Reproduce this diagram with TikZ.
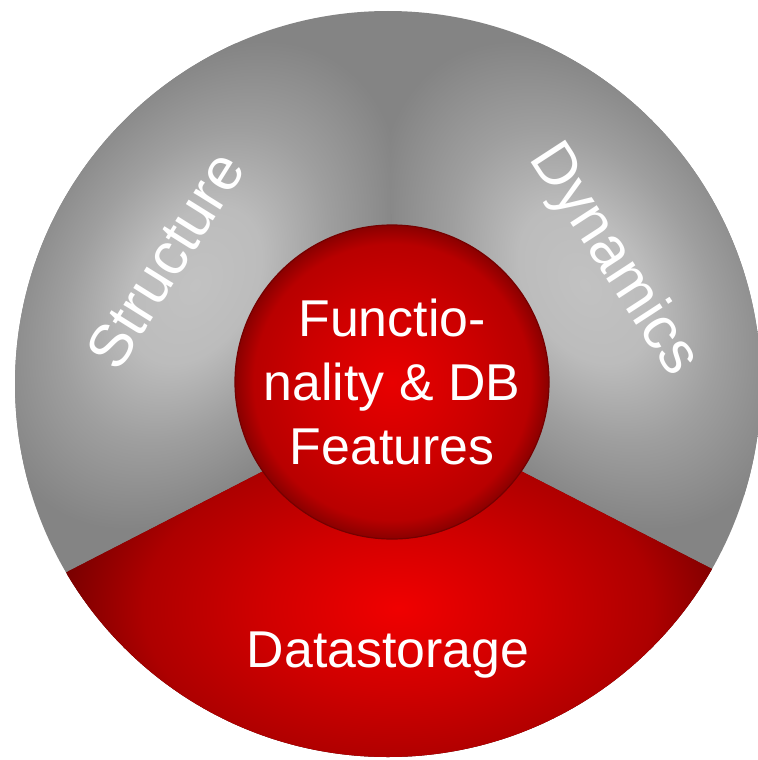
\documentclass[tikz,border=0pt]{standalone}
\usepackage{fontspec}
\setmainfont{Liberation Sans}
\usetikzlibrary{calc}

\definecolor{graylight}{RGB}{194,194,194}
\definecolor{graymid}{RGB}{170,170,170}
\definecolor{graydark}{RGB}{132,132,132}
\definecolor{redlight}{RGB}{240,0,0}
\definecolor{redmid}{RGB}{208,0,0}
\definecolor{reddark}{RGB}{122,0,0}
\definecolor{ballcore}{RGB}{232,0,0}
\definecolor{ballmid}{RGB}{204,0,0}
\definecolor{ballrim}{RGB}{138,0,0}

\pgfdeclareradialshading{grayshade}{\pgfpoint{0bp}{0bp}}{color(0bp)=(graylight); color(8bp)=(graylight!75!graymid); color(16bp)=(graymid!70!graydark); color(25bp)=(graydark); color(50bp)=(graydark)}
\pgfdeclareradialshading{redshade}{\pgfpoint{0bp}{0bp}}{color(0bp)=(redlight); color(10bp)=(redmid); color(19bp)=(redmid!60!reddark); color(25bp)=(reddark); color(50bp)=(reddark)}
\pgfdeclareradialshading{ballshade}{\pgfpoint{0bp}{0bp}}{color(0bp)=(ballcore); color(14bp)=(ballmid); color(22bp)=(ballmid!70!ballrim); color(25bp)=(ballrim); color(50bp)=(ballrim)}

\begin{document}
\begin{tikzpicture}[x=1bp, y=-1bp,
  sectortext/.style={text=white, align=center, font=\fontsize{52}{64}\selectfont},
  bigtext/.style={sectortext, font=\fontsize{60}{72}\selectfont}]
\useasboundingbox (0,0) rectangle (758,760);

\coordinate (center) at (388,384);
\coordinate (meet) at (392,405);
\coordinate (left) at (67,572);
\coordinate (right) at (718,572);

\begin{scope}
\clip (center) circle (373);
\fill[graydark] (0,0) rectangle (800,800);
% upper left part
\begin{scope}
\clip (meet) -- ($(meet)!1.6!(left)$) -- (-100,-100) -- (390,-100) -- cycle;
\begin{scope}[transform canvas={shift={(195,285)}, rotate=58}]
\shade[shading=grayshade] (0,0) ellipse (265 and 180);
\end{scope}
\end{scope}
% upper right part
\begin{scope}
\clip (meet) -- ($(meet)!1.6!(right)$) -- (860,-100) -- (390,-100) -- cycle;
\begin{scope}[transform canvas={shift={(585,285)}, rotate=-58}]
\shade[shading=grayshade] (0,0) ellipse (265 and 180);
\end{scope}
\end{scope}
% lower part
\begin{scope}
\clip (meet) -- ($(meet)!1.6!(left)$) -- (-100,860) -- (860,860) -- ($(meet)!1.6!(right)$) -- cycle;
\fill[reddark] (-100,300) rectangle (860,860);
\shade[shading=redshade] (398,608) ellipse (335 and 205);
\end{scope}
\end{scope}

\node [circle, minimum size=314bp, inner sep=0pt, shade, shading=ballshade, draw=ballrim!85!black, line width=1.2bp, sectortext] (core) at (392,382) {Functio-\\nality \& DB\\Features};

\node [bigtext, rotate=58] (structure) at (165,260) {Structure};
\node [bigtext, rotate=-57] (dynamics) at (613,260) {Dynamics};
\node [sectortext] (storage) at (388,655) {Datastorage};

\end{tikzpicture}
\end{document}
